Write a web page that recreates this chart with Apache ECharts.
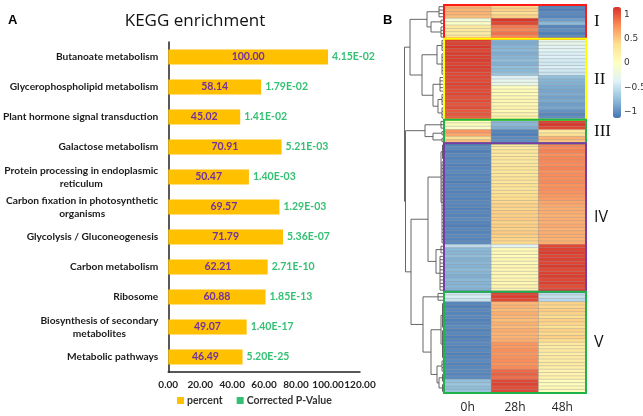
<!DOCTYPE html>
<html>
<head>
<meta charset="utf-8">
<script src="https://cdn.jsdelivr.net/npm/echarts@6/dist/echarts.min.js"></script>
<style>
html, body { margin: 0; padding: 0; background: #fff; }
#main { width: 643px; height: 416px; }
</style>
</head>
<body>
<div id="main"></div>
<script>
// ---- panel A: KEGG enrichment ----
var pathways = [
    'Butanoate metabolism',
    'Glycerophospholipid metabolism',
    'Plant hormone signal transduction',
    'Galactose metabolism',
    'Protein processing in endoplasmic\nreticulum',
    'Carbon fixation in photosynthetic\norganisms',
    'Glycolysis / Gluconeogenesis',
    'Carbon metabolism',
    'Ribosome',
    'Biosynthesis of secondary\nmetabolites',
    'Metabolic pathways'
];
var percent = [100.00, 58.14, 45.02, 70.91, 50.47, 69.57, 71.79, 62.21, 60.88, 49.07, 46.49];
var pValue = ['4.15E-02', '1.79E-02', '1.41E-02', '5.21E-03', '1.40E-03', '1.29E-03',
              '5.36E-07', '2.71E-10', '1.85E-13', '1.40E-17', '5.20E-25'];

// ---- panel B: heatmap, rows top to bottom, values for 0h / 28h / 48h ----
var timePoints = ['0h', '28h', '48h'];
var clusterI = [
    [0.62, 0.42, -1.06], [0.58, 0.46, -1.08], [0.60, 0.40, -1.02], [0.55, 0.45, -1.05],
    [-0.15, 1.12, -0.92], [-0.05, 1.05, -0.78],
    [0.25, 0.85, -1.05], [0.28, 0.80, -1.00], [0.22, 0.88, -1.08], [0.30, 0.78, -1.02]
];
var clusterII = [
    [1.10, -0.82, -0.30], [1.08, -0.85, -0.28], [1.12, -0.80, -0.33], [1.06, -0.78, -0.35],
    [1.10, -0.84, -0.40], [1.09, -0.80, -0.38], [1.11, -0.76, -0.42], [1.07, -0.82, -0.45],
    [1.10, -0.75, -0.40], [1.08, -0.78, -0.44], [1.05, -0.72, -0.48],
    [1.06, -0.38, -0.75], [1.04, -0.30, -0.80], [1.08, -0.25, -0.82],
    [1.05, 0.02, -0.85], [1.03, 0.08, -0.88], [1.06, 0.05, -0.84], [1.02, 0.10, -0.90],
    [1.04, 0.12, -0.86], [1.00, 0.08, -0.92], [1.03, 0.15, -0.88], [0.98, 0.10, -0.98],
    [1.00, 0.14, -1.04], [0.96, 0.18, -1.00]
];
var clusterIII = [
    [0.00, -0.80, 1.08], [0.05, -0.78, 1.12], [-0.05, -0.85, 1.05],
    [0.72, -1.05, 0.28], [0.65, -1.08, 0.35],
    [0.40, -1.02, 0.60], [0.55, -1.00, 0.52]
];
var clusterIV = [
    [-1.05, 0.28, 0.80], [-1.02, 0.25, 0.78], [-1.08, 0.30, 0.82], [-1.04, 0.27, 0.76],
    [-1.06, 0.32, 0.80], [-1.03, 0.26, 0.79], [-1.07, 0.30, 0.77], [-1.05, 0.33, 0.81],
    [-1.02, 0.29, 0.75], [-1.06, 0.31, 0.78], [-1.04, 0.34, 0.76], [-1.08, 0.30, 0.79],
    [-1.03, 0.35, 0.74], [-1.05, 0.32, 0.77], [-1.07, 0.36, 0.75], [-1.04, 0.38, 0.72],
    [-1.06, 0.40, 0.70], [-1.03, 0.42, 0.66], [-1.05, 0.45, 0.64], [-1.07, 0.43, 0.62],
    [-1.04, 0.47, 0.63], [-1.06, 0.46, 0.60], [-1.02, 0.48, 0.62], [-1.05, 0.44, 0.61],
    [-1.08, 0.47, 0.64], [-1.04, 0.45, 0.60], [-1.06, 0.49, 0.62], [-1.03, 0.46, 0.63],
    [-1.05, 0.44, 0.60], [-1.02, 0.42, 0.62],
    [-0.55, -0.32, 1.05], [-0.78, 0.05, 1.08], [-0.80, 0.08, 1.10], [-0.76, 0.06, 1.06],
    [-0.82, 0.10, 1.09], [-0.79, 0.07, 1.07], [-0.81, 0.12, 1.11], [-0.77, 0.09, 1.05],
    [-0.80, 0.11, 1.08], [-0.83, 0.08, 1.10], [-0.78, 0.13, 1.06], [-0.81, 0.10, 1.09],
    [-0.79, 0.14, 1.04], [-0.82, 0.12, 1.07]
];
var clusterV = [
    [-0.45, 1.08, -0.55], [-0.40, 1.10, -0.50], [-0.50, 1.05, -0.58],
    [-1.05, 0.58, 0.45], [-1.08, 0.60, 0.42], [-1.03, 0.56, 0.48], [-1.06, 0.62, 0.44],
    [-1.04, 0.58, 0.40], [-1.07, 0.55, 0.46], [-1.05, 0.61, 0.43], [-1.02, 0.57, 0.38],
    [-1.06, 0.63, 0.45], [-1.04, 0.59, 0.41], [-1.07, 0.60, 0.47], [-1.05, 0.62, 0.40],
    [-1.03, 0.74, 0.28], [-1.06, 0.72, 0.24], [-1.04, 0.76, 0.27], [-1.07, 0.73, 0.22],
    [-1.05, 0.75, 0.26], [-1.02, 0.77, 0.23], [-1.06, 0.74, 0.25], [-1.04, 0.78, 0.21],
    [-1.03, 0.92, 0.16], [-1.05, 0.95, 0.14], [-1.02, 0.90, 0.18],
    [-0.74, 1.05, 0.06], [-0.70, 1.08, 0.04], [-0.76, 1.03, 0.08], [-0.72, 1.06, 0.02]
];
var clusterNames = ['I', 'II', 'III', 'IV', 'V'];
var clusterColors = ['#ff1a1a', '#ffff00', '#1fb44a', '#7b3aa8', '#1fb44a'];
var colorTicks = [-1, -0.5, 0, 0.5, 1];
var heatColors = ['#4575b4', '#91bfdb', '#e0f3f8', '#ffffbf', '#fee090', '#fc8d59', '#d73027'];

// row dendrogram: h = merge height, rows = leaf group [first, last]
var dendroTree = {h: 39.5, kids: [
    {h: 34, kids: [
        {h: 17, kids: [{h: 5, rows: [0, 3]},
                       {h: 13, kids: [{h: 3, rows: [4, 5]}, {h: 3, rows: [6, 9]}]}]},
        {h: 22, kids: [{h: 7, kids: [{h: 2, rows: [10, 13]}, {h: 2, rows: [14, 20]}]},
                       {h: 11, kids: [{h: 4, rows: [21, 25]},
                                      {h: 6, kids: [{h: 2, rows: [26, 29]}, {h: 2, rows: [30, 33]}]}]}]}
    ]},
    {h: 38.5, kids: [
        {h: 19, kids: [{h: 3, rows: [34, 36]},
                       {h: 11, kids: [{h: 2, rows: [37, 38]}, {h: 2, rows: [39, 40]}]}]},
        {h: 33, kids: [
            {h: 16, kids: [{h: 3, kids: [{h: 1.5, rows: [41, 45]}, {h: 2, rows: [46, 70]}]},
                           {h: 8, kids: [{h: 3, rows: [71, 73]}, {h: 4, rows: [74, 84]}]}]},
            {h: 21, kids: [{h: 6, rows: [85, 87]},
                           {h: 13, kids: [{h: 3, kids: [{h: 1.5, rows: [88, 95]}, {h: 1.5, rows: [96, 104]}]},
                                          {h: 7, kids: [{h: 2, rows: [105, 108]},
                                                        {h: 5, kids: [{h: 1.5, rows: [109, 111]}, {h: 1.5, rows: [112, 114]}]}]}]}]}
        ]}
    ]}
]};

var clusters = [clusterI, clusterII, clusterIII, clusterIV, clusterV];
var heatRows = [];
var clusterSpans = [];
clusters.forEach(function (c, k) {
    clusterSpans.push([0, heatRows.length, heatRows.length + c.length - 1, k]);
    heatRows = heatRows.concat(c);
});
var rowIds = heatRows.map(function (r, i) { return i; });
var heatData = [];
heatRows.forEach(function (r, i) {
    r.forEach(function (v, j) { heatData.push([j, i, v]); });
});

// turn the tree into line segments [h1, y1, h2, y2] in row units
var segs = [];
function layout(n) {
    if (n.rows) {
        var a = n.rows[0] + 0.5, b = n.rows[1] + 0.5;
        segs.push([n.h, a, n.h, b]);
        for (var r = n.rows[0]; r <= n.rows[1]; r++) segs.push([0, r + 0.5, n.h, r + 0.5]);
        return (a + b) / 2;
    }
    var ys = n.kids.map(function (kid) {
        var y = layout(kid);
        segs.push([kid.h, y, n.h, y]);
        return y;
    });
    segs.push([n.h, ys[0], n.h, ys[1]]);
    return (ys[0] + ys[1]) / 2;
}
layout(dendroTree);

var fontA = 'Lato, "Open Sans", sans-serif';

var myChart = echarts.init(document.getElementById('main'));

var option = {
    animation: false,
    backgroundColor: '#fff',
    title: [
        {text: 'KEGG enrichment', left: 190, top: 8, textAlign: 'center',
         textStyle: {fontSize: 17, fontWeight: 'normal', color: '#111', fontFamily: '"Open Sans", sans-serif'}},
        {text: 'A', left: 3, top: 9, textStyle: {fontSize: 13, fontWeight: 'bold', color: '#000', fontFamily: 'Liberation Sans'}},
        {text: 'B', left: 378, top: 9, textStyle: {fontSize: 13, fontWeight: 'bold', color: '#000', fontFamily: 'Liberation Sans'}}
    ],
    legend: {
        data: ['percent', 'Corrected P-Value'],
        left: 172, top: 390, icon: 'rect', itemWidth: 7, itemHeight: 7, itemGap: 14,
        textStyle: {fontSize: 10.5, fontWeight: 'bold', color: '#333', fontFamily: fontA, padding: [0, 0, 0, -2]}
    },
    grid: [
        {left: 168, top: 42, width: 192, height: 330},
        {left: 444, top: 5, width: 142, height: 388},
        {left: 403, top: 5, width: 41, height: 388},
        {left: 621, top: 7, width: 10, height: 111}
    ],
    xAxis: [
        {gridIndex: 0, type: 'value', min: 0, max: 120, interval: 20,
         axisLine: {show: true, lineStyle: {color: '#222', width: 1.5}},
         axisTick: {show: false}, splitLine: {show: false},
         axisLabel: {margin: 8, fontSize: 10, fontWeight: 'bold', color: '#222', fontFamily: fontA,
                     formatter: function (v) { return v.toFixed(2); }}},
        {gridIndex: 1, type: 'category', data: timePoints,
         axisLine: {show: false}, axisTick: {show: false}, splitLine: {show: false},
         axisLabel: {margin: 9, fontSize: 12, color: '#222', fontFamily: '"Open Sans", sans-serif'}},
        {gridIndex: 2, type: 'value', min: 0, max: 41, inverse: true, show: false},
        {gridIndex: 3, type: 'value', min: 0, max: 1, show: false}
    ],
    yAxis: [
        {gridIndex: 0, type: 'category', data: pathways, inverse: true,
         axisLine: {show: true, lineStyle: {color: '#222', width: 1.5}},
         axisTick: {show: false},
         axisLabel: {margin: 10, lineHeight: 13,
                     formatter: function (v) {
                         return v.split('\n').map(function (s) { return '{c|' + s + '}'; }).join('\n');
                     },
                     rich: {c: {align: 'center', fontSize: 10.2, fontWeight: 'bold', color: '#1a1a1a',
                                fontFamily: fontA, lineHeight: 13}}}},
        {gridIndex: 1, type: 'category', data: rowIds, inverse: true, show: false},
        {gridIndex: 2, type: 'value', min: 0, max: heatRows.length, inverse: true, show: false},
        {gridIndex: 3, type: 'value', min: -1.13, max: 1.15, position: 'left',
         axisLine: {show: false}, axisTick: {show: false}, splitLine: {show: false},
         axisLabel: {inside: true, margin: 3, fontSize: 9, color: '#333', fontFamily: '"DejaVu Sans", sans-serif',
                     customValues: colorTicks,
                     formatter: function (v) { return String(v).replace('-', '\u2212'); }}}
    ],
    visualMap: {
        type: 'continuous', seriesIndex: 2, dimension: 2,
        min: -1.13, max: 1.15, orient: 'vertical', left: 613, top: 7,
        itemWidth: 8, itemHeight: 111, padding: 0, calculable: false,
        inRange: {color: heatColors}
    },
    series: [
        {name: 'percent', type: 'bar', xAxisIndex: 0, yAxisIndex: 0,
         data: percent, barWidth: 15,
         itemStyle: {color: '#ffc000'},
         label: {show: true, position: 'inside', color: '#7030a0', fontSize: 10.5, fontWeight: 'bold',
                 fontFamily: fontA, formatter: function (p) { return p.value.toFixed(2); }}},
        {name: 'Corrected P-Value', type: 'scatter', xAxisIndex: 0, yAxisIndex: 0,
         data: percent.map(function (v, i) { return [v, i]; }), symbolSize: 0,
         itemStyle: {color: '#00b050'},
         label: {show: true, position: 'right', distance: 4, color: '#00b050', fontSize: 10.5,
                 fontWeight: 'bold', fontFamily: fontA,
                 formatter: function (p) { return pValue[p.dataIndex]; }}},
        {name: 'expression', type: 'heatmap', xAxisIndex: 1, yAxisIndex: 1, data: heatData,
         itemStyle: {borderColor: 'rgba(150,150,150,0.75)', borderWidth: 0.5}},
        {name: 'clusters', type: 'custom', xAxisIndex: 1, yAxisIndex: 1, data: clusterSpans,
         encode: {x: 0, y: 1}, z: 5,
         renderItem: function (params, api) {
             var r0 = api.value(1), r1 = api.value(2), k = api.value(3);
             var band = api.size([1, 1]);
             var p0 = api.coord([0, r0]), p1 = api.coord([2, r1]);
             var x0 = p0[0] - band[0] / 2, x1 = p1[0] + band[0] / 2;
             var y0 = p0[1] - band[1] / 2, y1 = p1[1] + band[1] / 2;
             return {type: 'group', children: [
                 {type: 'rect', shape: {x: x0, y: y0, width: x1 - x0, height: y1 - y0},
                  style: {fill: 'none', stroke: clusterColors[k], lineWidth: 2}},
                 {type: 'text', style: {text: clusterNames[k], x: x1 + 8, y: (y0 + y1) / 2,
                  textVerticalAlign: 'middle', fill: '#111',
                  font: k < 3 ? '17px "Liberation Serif", serif' : '16px "Open Sans", sans-serif'}}
             ]};
         }},
        {name: 'dendrogram', type: 'custom', xAxisIndex: 2, yAxisIndex: 2, data: segs,
         encode: {x: 0, y: 1},
         renderItem: function (params, api) {
             var a = api.coord([api.value(0), api.value(1)]);
             var b = api.coord([api.value(2), api.value(3)]);
             return {type: 'line', shape: {x1: a[0], y1: a[1], x2: b[0], y2: b[1]},
                     style: {stroke: '#555', lineWidth: 0.9}};
         }},
        {name: 'scale', type: 'scatter', xAxisIndex: 3, yAxisIndex: 3, data: []}
    ]
};

myChart.setOption(option);
</script>
</body>
</html>
